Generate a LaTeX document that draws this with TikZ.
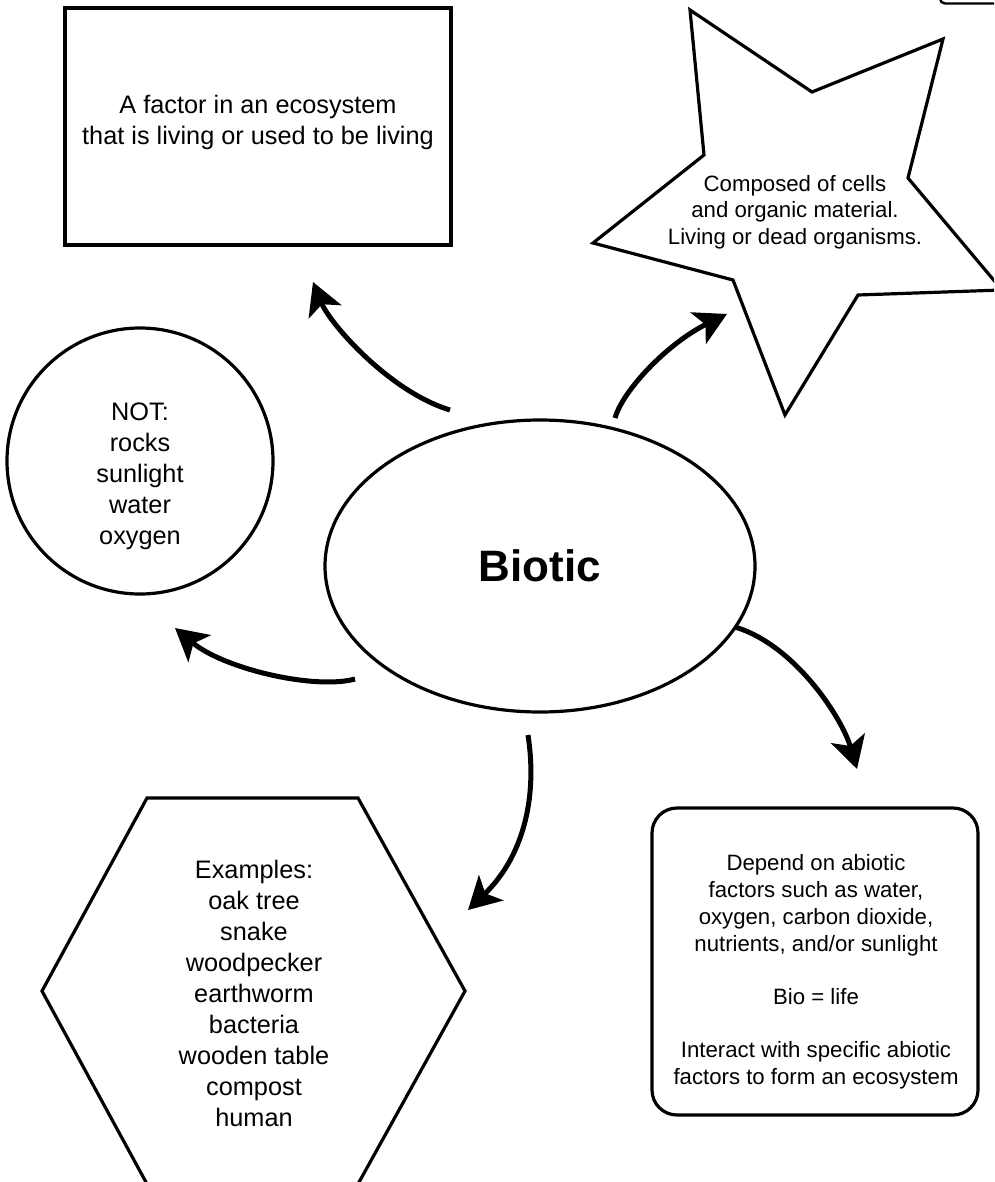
\documentclass[tikz,border=0pt]{standalone}
\usepackage{fontspec}
\setmainfont{Liberation Sans}
\usetikzlibrary{arrows.meta,shapes.geometric}
\begin{document}
\begin{tikzpicture}[x=1pt,y=-1pt,
  shp/.style={draw=black, line width=3.2pt},
  arr/.style={line width=5pt, -{Stealth[length=32pt,width=35pt,inset=8pt]}},
  big/.style={font=\fontsize{25.3}{31}\selectfont, align=center, inner sep=0pt},
  small/.style={font=\fontsize{22.2}{26.7}\selectfont, align=center, inner sep=0pt}]
\useasboundingbox (0,0) rectangle (994,1182);
\clip (0,0) rectangle (994,1182);
\fill[white] (0,0) rectangle (994,1182);

% top-right partial box
\draw[line width=2.4pt, rounded corners=5pt] (940,-20) -- (940,3.5) -- (1010,3.5);

% definition rectangle
\node[shp, rectangle, minimum width=386pt, minimum height=237pt, inner sep=0pt] (def) at (258,126.5) {};
\node[big] (deftext) at (258,122) {A factor in an ecosystem\\that is living or used to be living};

% NOT circle
\node[shp, circle, minimum size=266pt, inner sep=0pt] (notc) at (140,461) {};
\node[big] (nottext) at (140,476) {NOT:\\rocks\\sunlight\\water\\oxygen};

% central ellipse
\node[shp, ellipse, minimum width=430pt, minimum height=292pt, inner sep=0pt,
      font=\bfseries\fontsize{44}{52}\selectfont] (bio) at (540,566) {Biotic};

% star
\draw[shp] (690,10) -- (812,92) -- (943,39) -- (908,178) -- (1002,290) -- (858,295)
  -- (785,415) -- (733,280) -- (593,243) -- (704,155) -- cycle;
\node[small] (startext) at (795,212) {Composed of cells\\and organic material.\\Living or dead organisms.};

% hexagon
\draw[shp] (147,798) -- (358,798) -- (465,991) -- (358,1184) -- (147,1184) -- (42,991) -- cycle;
\node[big] (hextext) at (254,993) {Examples:\\oak tree\\snake\\woodpecker\\earthworm\\bacteria\\wooden table\\compost\\human};

% rounded rectangle
\node[shp, rectangle, rounded corners=25pt, minimum width=326pt, minimum height=307pt, inner sep=0pt] (dep) at (815,961.5) {};
\node[small] (deptext) at (816,972) {Depend on abiotic\\factors such as water,\\oxygen, carbon dioxide,\\nutrients, and/or sunlight\\[26.7pt]Bio = life\\[26.7pt]Interact with specific abiotic\\factors to form an ecosystem};

% arrows
\coordinate (a1s) at (450,410); \coordinate (a1e) at (313,282);
\coordinate (a2s) at (615,418); \coordinate (a2e) at (727,314);
\coordinate (a3s) at (355,679); \coordinate (a3e) at (175,628);
\coordinate (a4s) at (735,627); \coordinate (a4e) at (857,769);
\coordinate (a5s) at (528,735); \coordinate (a5e) at (468,910);
\draw[arr] (a1s) .. controls (390,392) and (330,324) .. (a1e);
\draw[arr] (a2s) .. controls (623,390) and (668,343) .. (a2e);
\draw[arr] (a3s) .. controls (315,690) and (224,669) .. (a3e);
\draw[arr] (a4s) .. controls (795,645) and (842,718) .. (a4e);
\draw[arr] (a5s) .. controls (538,800) and (522,858) .. (a5e);
\end{tikzpicture}
\end{document}
